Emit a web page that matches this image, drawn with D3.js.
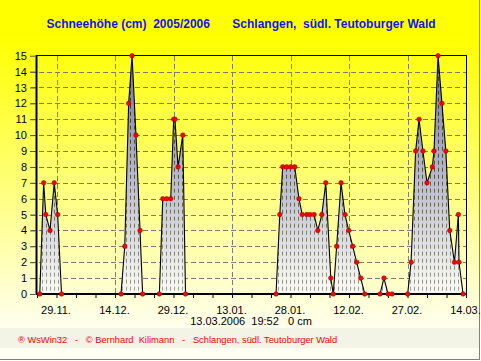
<!DOCTYPE html>
<html><head><meta charset="utf-8">
<script src="https://cdn.jsdelivr.net/npm/d3@7"></script>
<style>html,body{margin:0;padding:0;background:#fff;} svg{display:block;font-family:Arial,"Liberation Sans",sans-serif;}</style>
</head><body>
<script>
const titleLeft = "Schneehöhe (cm)  2005/2006";
const titleRight = "Schlangen,  südl. Teutoburger Wald";
const statusText = "13.03.2006  19:52   0 cm";
const footerText = "® WsWin32   -   © Bernhard  Kilimann   -   Schlangen, südl. Teutoburger Wald";

const yTicks = [0,1,2,3,4,5,6,7,8,9,10,11,12,13,14,15];
const xTickDates = ["29.11.2005","14.12.2005","29.12.2005","13.01.2006","28.01.2006","12.02.2006","27.02.2006","14.03.2006"];
const xTickLabels = ["29.11.","14.12.","29.12.","13.01.","28.01.","12.02.","27.02.","14.03."];
const xDomain = ["24.11.2005 00:00","14.03.2006 00:00"];

const times = [
 "24.11.2005 17:00","25.11.2005 17:00","26.11.2005 06:00","27.11.2005 08:00","28.11.2005 10:00","29.11.2005 07:00","30.11.2005 07:00",
 "15.12.2005 13:00","16.12.2005 12:00","17.12.2005 12:00","18.12.2005 09:00","19.12.2005 09:00","20.12.2005 10:00","21.12.2005 02:00",
 "25.12.2005 09:00","26.12.2005 06:00","27.12.2005 06:00","28.12.2005 07:00","29.12.2005 01:00","29.12.2005 09:00","30.12.2005 04:00","31.12.2005 09:00","01.01.2006 02:00",
 "24.01.2006 07:00","25.01.2006 06:00","26.01.2006 00:00","27.01.2006 01:00","28.01.2006 01:00","29.01.2006 02:00","30.01.2006 04:00","31.01.2006 00:00",
 "01.02.2006 04:00","02.02.2006 00:00","03.02.2006 01:00","04.02.2006 00:00","05.02.2006 01:00","06.02.2006 01:00","07.02.2006 08:00","07.02.2006 23:00",
 "08.02.2006 20:00","09.02.2006 23:00","10.02.2006 23:00","11.02.2006 22:00","12.02.2006 23:00","13.02.2006 23:00","15.02.2006 00:00","16.02.2006 01:00",
 "19.02.2006 23:00","20.02.2006 23:00","22.02.2006 00:00","23.02.2006 01:00",
 "27.02.2006 01:00","27.02.2006 22:00","01.03.2006 02:00","01.03.2006 23:00","02.03.2006 23:00","04.03.2006 00:00","05.03.2006 09:00","05.03.2006 19:00",
 "06.03.2006 20:00","07.03.2006 20:00","08.03.2006 20:00","09.03.2006 20:00","11.03.2006 01:00","12.03.2006 01:00","12.03.2006 05:00","13.03.2006 06:00"
];
const depths = [
 0,7,5,4,7,5,0,
 0,3,12,15,10,4,0,
 0,6,6,6,11,11,8,10,0,
 0,5,8,8,8,8,6,5,
 5,5,5,4,5,7,1,0,
 3,7,5,4,3,2,1,0,
 0,1,0,0,
 0,2,9,11,9,7,8,9,
 15,12,9,4,2,5,2,0
];

const W = 481, H = 361;
const parseT = d3.timeParse("%d.%m.%Y %H:%M");
const parseD = d3.timeParse("%d.%m.%Y");
const data = times.map((t,i)=>({t:parseT(t), v:depths[i]}));

const svg = d3.select("body").append("svg").attr("width",W).attr("height",H);
const defs = svg.append("defs");

const bg = defs.append("linearGradient").attr("id","bg").attr("gradientUnits","userSpaceOnUse")
  .attr("x1",0).attr("y1",35).attr("x2",0).attr("y2",335);
bg.append("stop").attr("offset","0").attr("stop-color","#ffff00");
bg.append("stop").attr("offset","1").attr("stop-color","#fffff4");

const x = d3.scaleTime().domain(xDomain.map(parseT)).range([37,466]);
const y = d3.scaleLinear().domain([0,15]).range([294,55.7]);

const ag = defs.append("linearGradient").attr("id","ag").attr("gradientUnits","userSpaceOnUse")
  .attr("x1",0).attr("y1",y(15)).attr("x2",0).attr("y2",y(0));
ag.append("stop").attr("offset","0").attr("stop-color","#7272ac");
ag.append("stop").attr("offset","1").attr("stop-color","#fbfbf4");

const hg = defs.append("linearGradient").attr("id","hg").attr("gradientUnits","userSpaceOnUse")
  .attr("x1",0).attr("y1",y(15)).attr("x2",0).attr("y2",y(0));
hg.append("stop").attr("offset","0").attr("stop-color","#303020");
hg.append("stop").attr("offset","0.5").attr("stop-color","#585838");
hg.append("stop").attr("offset","1").attr("stop-color","#a0a098");

svg.append("rect").attr("width",W).attr("height",H).attr("fill","url(#bg)");
svg.append("rect").attr("x",0).attr("y",328).attr("width",479).attr("height",20).attr("fill","#f3f3e6");
svg.append("line").attr("x1",479.5).attr("x2",479.5).attr("y1",0).attr("y2",360).attr("stroke","#808080");
svg.append("line").attr("x1",0).attr("x2",480).attr("y1",359.5).attr("y2",359.5).attr("stroke","#808080");

// titles
svg.append("text").attr("x",46.5).attr("y",27.5).attr("fill","#1414f0").attr("font-weight","bold")
  .attr("font-size",12).style("white-space","pre").text(titleLeft);
svg.append("text").attr("x",232.3).attr("y",27.5).attr("fill","#1414f0").attr("font-weight","bold")
  .attr("font-size",12).style("white-space","pre").text(titleRight);

// grid
const grid = svg.append("g").attr("stroke","#7c7c7c").attr("stroke-dasharray","5,3");
grid.selectAll("line.h").data(yTicks.filter(v=>v>0 && v<15)).join("line")
  .attr("x1",31).attr("x2",466).attr("y1",d=>Math.round(y(d))+0.5).attr("y2",d=>Math.round(y(d))+0.5);
grid.selectAll("line.v").data(xTickDates.slice(0,-1)).join("line")
  .attr("x1",d=>Math.round(x(parseD(d)))+0.5).attr("x2",d=>Math.round(x(parseD(d)))+0.5)
  .attr("y1",56).attr("y2",294);

// area
const area = d3.area().x(d=>x(d.t)).y0(y(0)).y1(d=>y(d.v));
const line = d3.line().x(d=>x(d.t)).y(d=>y(d.v));
defs.append("clipPath").attr("id","ac").append("path").attr("d",area(data));
svg.append("path").attr("d",area(data)).attr("fill","url(#ag)");
const hatchX = d3.range(38,466,4);
svg.append("g").attr("clip-path","url(#ac)").selectAll("line").data(hatchX).join("line")
  .attr("x1",d=>d+0.5).attr("x2",d=>d+0.5).attr("y1",y(15)).attr("y2",y(0))
  .attr("stroke","url(#hg)").attr("stroke-width",1).attr("stroke-dasharray","4,3");
svg.append("path").attr("d",line(data)).attr("fill","none").attr("stroke","#000").attr("stroke-width",1.1);

// frame
svg.append("line").attr("x1",37).attr("x2",466.5).attr("y1",55.5).attr("y2",55.5).attr("stroke","#000");
svg.append("line").attr("x1",466.5).attr("x2",466.5).attr("y1",55).attr("y2",295).attr("stroke","#000");
svg.append("line").attr("x1",36.5).attr("x2",36.5).attr("y1",55).attr("y2",295).attr("stroke","#000").attr("stroke-width",2);
svg.append("line").attr("x1",36).attr("x2",467).attr("y1",294).attr("y2",294).attr("stroke","#000").attr("stroke-width",2);

// y axis
const yAxis = d3.axisLeft(y).tickValues(yTicks).tickSize(5).tickPadding(3).tickFormat(d3.format("d"));
const gy = svg.append("g").attr("transform","translate(35,0)").call(yAxis);
gy.select(".domain").remove();
gy.selectAll(".tick line").attr("stroke","#555");
gy.selectAll("text").attr("font-size",11).attr("fill","#000").attr("font-family","Arial,'Liberation Sans',sans-serif");

// x axis: minor ticks every 5 days, labels at majors
const minor = d3.timeDay.every(1).range(x.domain()[0], d3.timeDay.offset(x.domain()[1],1)).filter((d,i)=>i%5===0);
const gxm = svg.append("g").attr("transform","translate(0,294)")
  .call(d3.axisBottom(x).tickValues(minor).tickSize(4).tickFormat(""));
gxm.select(".domain").remove();
gxm.selectAll(".tick line").attr("stroke","#000");
const gx = svg.append("g").attr("transform","translate(-1,294)")
  .call(d3.axisBottom(x).tickValues(xTickDates.map(parseD)).tickSize(0).tickPadding(12)
    .tickFormat((d,i)=>xTickLabels[i]));
gx.select(".domain").remove();
gx.selectAll("text").attr("font-size",11).attr("fill","#000").attr("font-family","Arial,'Liberation Sans',sans-serif");

// dots
svg.append("g").selectAll("circle").data(data).join("circle")
  .attr("cx",d=>x(d.t)).attr("cy",d=>y(d.v)).attr("r",2.3)
  .attr("fill","#ff0000").attr("stroke","#900000").attr("stroke-width",0.5);

// status + footer
svg.append("text").attr("x",251).attr("y",325).attr("text-anchor","middle").attr("font-size",11)
  .attr("fill","#000").style("white-space","pre").text(statusText);
svg.append("text").attr("x",18).attr("y",342.5).attr("font-size",9.3)
  .attr("fill","#ff0000").style("white-space","pre").text(footerText);
</script>
</body></html>
